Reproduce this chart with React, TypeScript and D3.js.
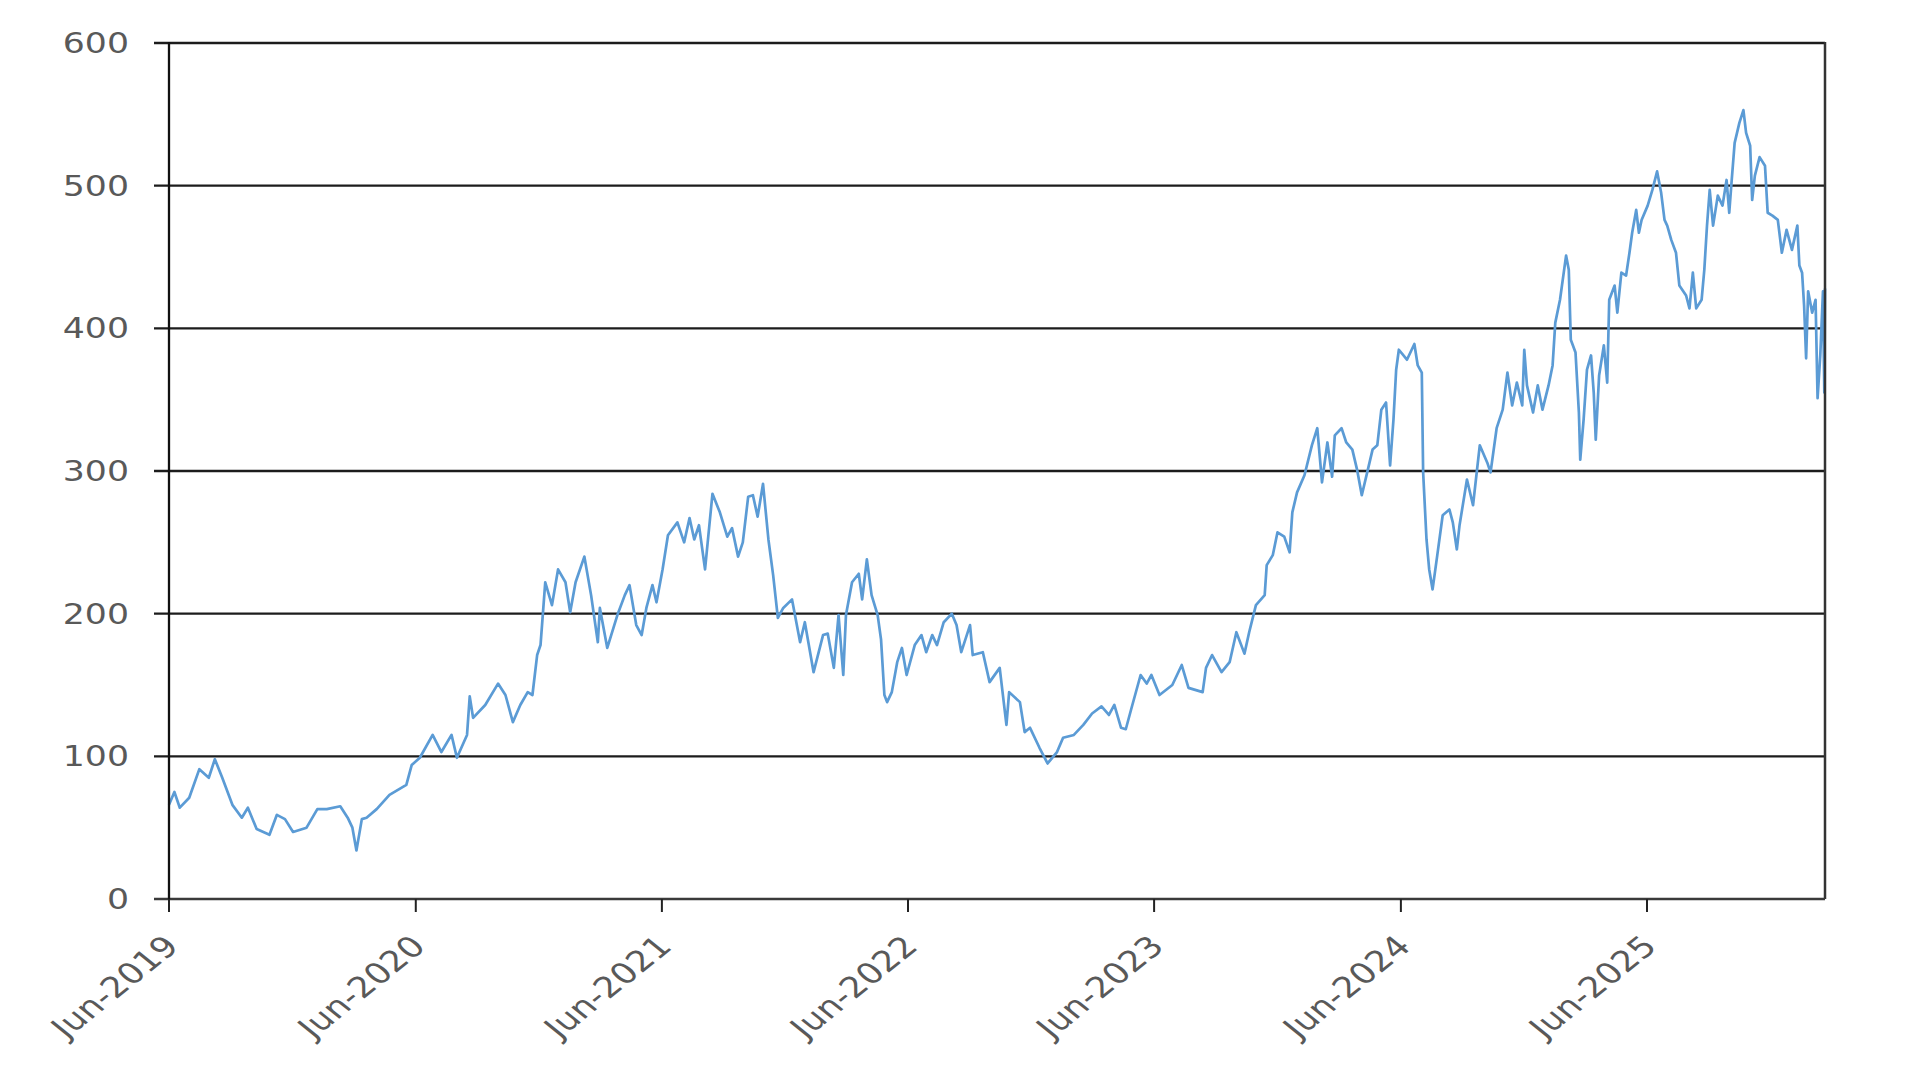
import * as d3 from "d3";

// Daily close (approximate)
const dates = [
  "2019-06-01", "2019-06-09", "2019-06-17", "2019-07-01", "2019-07-16", "2019-07-30", "2019-08-08", "2019-08-19",
  "2019-09-03", "2019-09-17", "2019-09-26", "2019-10-09", "2019-10-28", "2019-11-08", "2019-11-20", "2019-12-02",
  "2019-12-22", "2020-01-07", "2020-01-21", "2020-02-10", "2020-02-21", "2020-02-28", "2020-03-05", "2020-03-13",
  "2020-03-20", "2020-04-04", "2020-04-23", "2020-05-18", "2020-05-26", "2020-06-07", "2020-06-26", "2020-07-09",
  "2020-07-24", "2020-08-01", "2020-08-16", "2020-08-20", "2020-08-25", "2020-09-12", "2020-10-01", "2020-10-12",
  "2020-10-23", "2020-11-03", "2020-11-14", "2020-11-21", "2020-11-28", "2020-12-03", "2020-12-10", "2020-12-20",
  "2020-12-29", "2021-01-09", "2021-01-16", "2021-01-24", "2021-02-06", "2021-02-16", "2021-02-26", "2021-03-01",
  "2021-03-12", "2021-03-27", "2021-04-07", "2021-04-14", "2021-04-24", "2021-05-02", "2021-05-09", "2021-05-18",
  "2021-05-24", "2021-06-02", "2021-06-10", "2021-06-24", "2021-07-04", "2021-07-12", "2021-07-19", "2021-07-26",
  "2021-08-04", "2021-08-15", "2021-08-26", "2021-09-06", "2021-09-13", "2021-09-22", "2021-09-29", "2021-10-07",
  "2021-10-14", "2021-10-21", "2021-10-29", "2021-11-06", "2021-11-13", "2021-11-20", "2021-11-28", "2021-12-11",
  "2021-12-23", "2021-12-30", "2022-01-12", "2022-01-26", "2022-02-02", "2022-02-11", "2022-02-18", "2022-02-25",
  "2022-03-01", "2022-03-10", "2022-03-20", "2022-03-25", "2022-04-01", "2022-04-08", "2022-04-17", "2022-04-22",
  "2022-04-27", "2022-05-01", "2022-05-08", "2022-05-16", "2022-05-23", "2022-05-30", "2022-06-11", "2022-06-21",
  "2022-06-28", "2022-07-07", "2022-07-14", "2022-07-24", "2022-08-05", "2022-08-12", "2022-08-19", "2022-09-01",
  "2022-09-05", "2022-09-20", "2022-09-30", "2022-10-15", "2022-10-22", "2022-10-25", "2022-10-29", "2022-11-14",
  "2022-11-21", "2022-11-29", "2022-12-13", "2022-12-25", "2023-01-08", "2023-01-17", "2023-02-02", "2023-02-16",
  "2023-03-01", "2023-03-15", "2023-03-26", "2023-04-03", "2023-04-13", "2023-04-20", "2023-04-28", "2023-05-12",
  "2023-05-21", "2023-05-28", "2023-06-09", "2023-06-28", "2023-07-12", "2023-07-22", "2023-08-12", "2023-08-17",
  "2023-08-26", "2023-09-09", "2023-09-21", "2023-10-01", "2023-10-13", "2023-10-20", "2023-10-30", "2023-11-12",
  "2023-11-15", "2023-11-24", "2023-12-01", "2023-12-11", "2023-12-19", "2023-12-23", "2023-12-30", "2024-01-10",
  "2024-01-21", "2024-01-29", "2024-02-05", "2024-02-13", "2024-02-20", "2024-02-24", "2024-03-05", "2024-03-12",
  "2024-03-21", "2024-03-28", "2024-04-04", "2024-04-13", "2024-04-20", "2024-04-27", "2024-05-03", "2024-05-10",
  "2024-05-16", "2024-05-21", "2024-05-25", "2024-05-29", "2024-06-10", "2024-06-21", "2024-06-26", "2024-07-02",
  "2024-07-04", "2024-07-09", "2024-07-13", "2024-07-18", "2024-07-25", "2024-08-02", "2024-08-12", "2024-08-17",
  "2024-08-23", "2024-08-27", "2024-09-07", "2024-09-16", "2024-09-26", "2024-10-07", "2024-10-12", "2024-10-21",
  "2024-10-30", "2024-11-06", "2024-11-13", "2024-11-20", "2024-11-28", "2024-12-01", "2024-12-05", "2024-12-14",
  "2024-12-21", "2024-12-28", "2025-01-06", "2025-01-12", "2025-01-16", "2025-01-23", "2025-02-01", "2025-02-05",
  "2025-02-08", "2025-02-15", "2025-02-20", "2025-02-22", "2025-02-27", "2025-03-04", "2025-03-10", "2025-03-14",
  "2025-03-17", "2025-03-22", "2025-03-29", "2025-04-03", "2025-04-06", "2025-04-14", "2025-04-18", "2025-04-24",
  "2025-05-01", "2025-05-06", "2025-05-10", "2025-05-16", "2025-05-20", "2025-05-24", "2025-06-02", "2025-06-09",
  "2025-06-16", "2025-06-22", "2025-06-27", "2025-07-01", "2025-07-07", "2025-07-14", "2025-07-19", "2025-07-29",
  "2025-08-03", "2025-08-08", "2025-08-13", "2025-08-21", "2025-08-25", "2025-08-29", "2025-09-02", "2025-09-07",
  "2025-09-14", "2025-09-21", "2025-09-27", "2025-10-01", "2025-10-04", "2025-10-09", "2025-10-16", "2025-10-22",
  "2025-10-26", "2025-11-01", "2025-11-04", "2025-11-08", "2025-11-15", "2025-11-23", "2025-11-27", "2025-12-04",
  "2025-12-12", "2025-12-18", "2025-12-25", "2026-01-02", "2026-01-10", "2026-01-13", "2026-01-17", "2026-01-20",
  "2026-01-23", "2026-01-26", "2026-02-01", "2026-02-06", "2026-02-09", "2026-02-13", "2026-02-17", "2026-02-19",
  "2026-02-20",
];

const prices = [
  66, 75, 64, 71, 91, 85, 98, 85,
  66, 57, 64, 49, 45, 59, 56, 47,
  50, 63, 63, 65, 57, 50, 34, 56,
  57, 63, 73, 80, 94, 99, 115, 103,
  115, 99, 115, 142, 127, 136, 151, 143,
  124, 136, 145, 143, 171, 178, 222, 206,
  231, 222, 201, 222, 240, 213, 180, 204,
  176, 199, 213, 220, 192, 185, 204, 220,
  208, 231, 255, 264, 250, 267, 252, 262,
  231, 284, 271, 254, 260, 240, 250, 282,
  283, 268, 291, 252, 227, 197, 204, 210,
  180, 194, 159, 185, 186, 162, 199, 157,
  199, 222, 228, 210, 238, 213, 199, 182,
  143, 138, 145, 166, 176, 157, 178, 185,
  173, 185, 178, 194, 200, 192, 173, 192,
  171, 173, 152, 162, 134, 122, 145, 138,
  117, 120, 106, 95, 103, 113, 115, 122,
  130, 135, 129, 136, 120, 119, 133, 157,
  151, 157, 143, 150, 164, 148, 145, 162,
  171, 159, 166, 187, 172, 187, 206, 213,
  234, 241, 257, 254, 243, 271, 285, 297,
  318, 330, 292, 320, 296, 325, 330, 320,
  315, 301, 283, 301, 315, 318, 343, 348,
  304, 336, 371, 385, 378, 389, 374, 369,
  299, 252, 231, 217, 241, 269, 273, 264,
  245, 262, 294, 276, 318, 306, 299, 330,
  343, 369, 346, 362, 346, 385, 360, 341,
  360, 343, 360, 374, 404, 420, 451, 441,
  392, 383, 341, 308, 336, 371, 381, 355,
  322, 367, 388, 362, 420, 430, 411, 439,
  437, 453, 467, 483, 467, 476, 486, 497,
  510, 495, 476, 472, 462, 453, 430, 423,
  414, 439, 414, 420, 441, 472, 497, 472,
  493, 486, 504, 481, 500, 530, 544, 553,
  537, 528, 490, 507, 520, 514, 481, 479,
  476, 453, 469, 455, 472, 444, 439, 416,
  379, 426, 411, 420, 351, 381, 426, 355,
  428,
];

const yTicks = [0, 100, 200, 300, 400, 500, 600];
const xTickDates = ["2019-06-01", "2020-06-01", "2021-06-01", "2022-06-01", "2023-06-01", "2024-06-01", "2025-06-01"];
const xTickLabels = ["Jun-2019", "Jun-2020", "Jun-2021", "Jun-2022", "Jun-2023", "Jun-2024", "Jun-2025"];
const domainDates = ["2019-06-01", "2026-02-20"];

const W = 1917;
const H = 1077;
const PLOT = { left: 169, right: 1825, top: 43, bottom: 899 };
const TICK = 15;
const STRETCH = 1.245; // the reference is stretched horizontally
const FONT = "'DejaVu Sans', Verdana, sans-serif";
const TEXT = "#595959";

const parse = d3.timeParse("%Y-%m-%d");

export default function App() {
  const x = d3
    .scaleTime()
    .domain(domainDates.map((d) => parse(d) as Date))
    .range([PLOT.left, PLOT.right]);
  const y = d3.scaleLinear().domain([0, 600]).range([PLOT.bottom, PLOT.top]);

  const pts = dates.map((d, i) => ({ date: parse(d) as Date, v: prices[i] }));
  const line = d3
    .line<{ date: Date; v: number }>()
    .x((d) => x(d.date))
    .y((d) => y(d.v));

  return (
    <div style={{ position: "absolute", left: 0, top: 0, width: W, height: H, background: "#fff" }}>
      <svg width={W} height={H} style={{ display: "block" }}>
        {/* gridlines (with outward tick) */}
        {yTicks.slice(1).map((t) => (
          <line
            key={t}
            x1={PLOT.left - TICK}
            x2={PLOT.right}
            y1={y(t)}
            y2={y(t)}
            stroke="#1c1c1c"
            strokeWidth={2.3}
          />
        ))}

        {/* series */}
        <path
          d={line(pts) ?? ""}
          fill="none"
          stroke="#5B9BD5"
          strokeWidth={2.7}
          strokeLinejoin="round"
        />

        {/* right border */}
        <line x1={PLOT.right} x2={PLOT.right} y1={PLOT.top - 1} y2={PLOT.bottom} stroke="#333" strokeWidth={2.5} />

        {/* x axis */}
        <line x1={PLOT.left - TICK} x2={PLOT.right} y1={y(0)} y2={y(0)} stroke="#3a3a3a" strokeWidth={2.3} />
        {xTickDates.map((d) => {
          const tx = x(parse(d) as Date);
          return <line key={d} x1={tx} x2={tx} y1={y(0)} y2={y(0) + TICK - 2} stroke="#222" strokeWidth={2} />;
        })}

        {/* y axis */}
        <line x1={PLOT.left} x2={PLOT.left} y1={PLOT.top - 1} y2={PLOT.bottom} stroke="#111" strokeWidth={2.3} />

        {/* y labels */}
        {yTicks.map((t) => (
          <text
            key={t}
            transform={`translate(${PLOT.left - 40},${y(t)}) scale(${STRETCH / 1.04},1)`}
            textAnchor="end"
            dominantBaseline="central"
            fontFamily={FONT}
            fontSize={29}
            fill={TEXT}
          >
            {t}
          </text>
        ))}

        {/* x labels */}
        {xTickDates.map((d, i) => {
          const tx = x(parse(d) as Date);
          return (
            <text
              key={d}
              transform={`translate(${tx + 3},${y(0) + 42}) scale(${STRETCH},1) rotate(-45)`}
              textAnchor="end"
              dominantBaseline="central"
              fontFamily={FONT}
              fontSize={29}
              fill={TEXT}
            >
              {xTickLabels[i]}
            </text>
          );
        })}
      </svg>
    </div>
  );
}
